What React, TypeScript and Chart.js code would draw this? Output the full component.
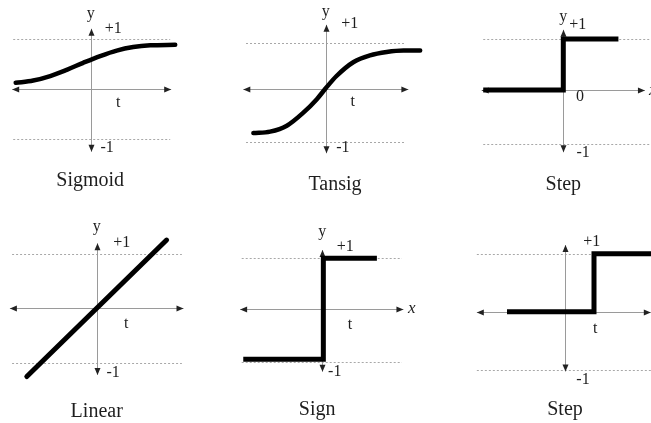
import React, { useEffect, useRef } from "react";
import { Chart, registerables } from "chart.js";
Chart.register(...registerables);

// ---- data ----
const sigmoidT = [-1.5, -1.15, -0.81, -0.48, -0.15, 0.19, 0.52, 0.85, 1.19, 1.69];
const sigmoidY = [0.13, 0.175, 0.265, 0.39, 0.53, 0.665, 0.775, 0.845, 0.88, 0.89];
const tansigT = [-1.47, -1.13, -0.79, -0.46, -0.18, 0, 0.22, 0.56, 0.9, 1.24, 1.58, 1.92];
const tansigY = [-0.89, -0.86, -0.74, -0.48, -0.2, 0.02, 0.27, 0.55, 0.69, 0.76, 0.79, 0.79];
const step1T = [-1.54, 0, 0, 1.06];
const step1Y = [0, 0, 1, 1];
const linearT = [-1.28, 0, 1.28];
const linearY = [-1.25, 0, 1.25];
const signT = [-1.52, 0.02, 0.02, 1.05];
const signY = [-0.96, -0.96, 0.98, 0.98];
const step2T = [-1.0, 0.5, 0.5, 1.5];
const step2Y = [0, 0, 1, 1];
const titles = ["Sigmoid", "Tansig", "Step", "Linear", "Sign", "Step"];
const plusOne = "+1";
const minusOne = "-1";

type Label = { text: string; x: number; y: number; size?: number; italic?: boolean; align?: CanvasTextAlign };
type Panel = {
  box: [number, number, number, number];
  ox: number; oy: number; ux: number; uy: number;
  hAxis: [number, number]; vAxis: [number, number];
  dots: [number, number]; dotVals: [number, number];
  t: number[]; y: number[]; lw: number; smooth: boolean; cap: CanvasLineCap;
  labels: Label[];
};

const SERIF = '"Liberation Serif", "Times New Roman", serif';

const panels: Panel[] = [
  {
    box: [0, 0, 217, 211], ox: 90.7, oy: 89.3, ux: 50, uy: 50,
    hAxis: [-1.57, 1.61], vAxis: [-1.25, 1.21], dots: [-1.55, 1.59], dotVals: [1, -1],
    t: sigmoidT, y: sigmoidY, lw: 4.5, smooth: true, cap: "round",
    labels: [
      { text: "y", x: 0, y: 1.51 }, { text: plusOne, x: 0.45, y: 1.21 }, { text: "t", x: 0.55, y: -0.27 },
      { text: minusOne, x: 0.33, y: -1.17 }, { text: titles[0], x: -0.01, y: -1.83, size: 20 },
    ],
  },
  {
    box: [217, 0, 217, 211], ox: 325.7, oy: 89.3, ux: 49.2, uy: 49.2,
    hAxis: [-1.675, 1.68], vAxis: [-1.3, 1.31], dots: [-1.62, 1.61], dotVals: [0.935, -1.065],
    t: tansigT, y: tansigY, lw: 4.5, smooth: true, cap: "round",
    labels: [
      { text: "y", x: 0, y: 1.57 }, { text: plusOne, x: 0.49, y: 1.33 }, { text: "t", x: 0.55, y: -0.26 },
      { text: minusOne, x: 0.35, y: -1.19 }, { text: titles[1], x: 0.19, y: -1.94, size: 20 },
    ],
  },
  {
    box: [434, 0, 217, 211], ox: 563.3, oy: 90, ux: 52, uy: 51,
    hAxis: [-1.57, 1.57], vAxis: [-1.22, 1.18], dots: [-1.54, 1.69], dotVals: [1, -1.065],
    t: step1T, y: step1Y, lw: 5, smooth: false, cap: "butt",
    labels: [
      { text: "y", x: 0, y: 1.43 }, { text: plusOne, x: 0.28, y: 1.27 }, { text: "0", x: 0.32, y: -0.14 },
      { text: minusOne, x: 0.38, y: -1.24 }, { text: titles[2], x: 0, y: -1.86, size: 20 },
      { text: "x", x: 1.65, y: -0.02, italic: true, align: "left", size: 17 },
    ],
  },
  {
    box: [0, 211, 217, 212], ox: 96.7, oy: 308.3, ux: 54.6, uy: 54.6,
    hAxis: [-1.59, 1.59], vAxis: [-1.22, 1.19], dots: [-1.55, 1.56], dotVals: [1, -1],
    t: linearT, y: linearY, lw: 5, smooth: false, cap: "round",
    labels: [
      { text: "y", x: 0, y: 1.49 }, { text: plusOne, x: 0.46, y: 1.2 }, { text: "t", x: 0.54, y: -0.29 },
      { text: minusOne, x: 0.3, y: -1.18 }, { text: titles[3], x: 0, y: -1.89, size: 20 },
    ],
  },
  {
    box: [217, 211, 217, 212], ox: 322.3, oy: 309.3, ux: 52, uy: 52,
    hAxis: [-1.58, 1.56], vAxis: [-1.2, 1.14], dots: [-1.55, 1.53], dotVals: [0.98, -1.02],
    t: signT, y: signY, lw: 5, smooth: false, cap: "butt",
    labels: [
      { text: "y", x: 0, y: 1.49 }, { text: plusOne, x: 0.44, y: 1.2 }, { text: "t", x: 0.53, y: -0.3 },
      { text: minusOne, x: 0.24, y: -1.2 }, { text: titles[4], x: -0.1, y: -1.94, size: 20 },
      { text: "x", x: 1.72, y: 0.02, italic: true, size: 17 },
    ],
  },
  {
    box: [434, 211, 217, 212], ox: 565, oy: 311.7, ux: 58, uy: 58,
    hAxis: [-1.52, 1.48], vAxis: [-1.03, 1.15], dots: [-1.52, 1.5], dotVals: [1, -1],
    t: step2T, y: step2Y, lw: 5, smooth: false, cap: "butt",
    labels: [
      { text: plusOne, x: 0.46, y: 1.21 }, { text: "t", x: 0.52, y: -0.29 },
      { text: minusOne, x: 0.31, y: -1.17 }, { text: titles[5], x: 0, y: -1.69, size: 20 },
    ],
  },
];

function arrow(ctx: CanvasRenderingContext2D, x: number, y: number, dx: number, dy: number) {
  const L = 7, W = 3;
  const px = -dy, py = dx;
  ctx.beginPath();
  ctx.moveTo(x, y);
  ctx.lineTo(x - dx * L + px * W, y - dy * L + py * W);
  ctx.lineTo(x - dx * L - px * W, y - dy * L - py * W);
  ctx.closePath();
  ctx.fill();
}

function makePlugin(p: Panel) {
  return {
    id: "axesDecor",
    beforeDatasetsDraw(chart: any) {
      const ctx: CanvasRenderingContext2D = chart.ctx;
      const xs = chart.scales.x, ys = chart.scales.y;
      const X = (v: number) => xs.getPixelForValue(v);
      const Y = (v: number) => ys.getPixelForValue(v);
      ctx.save();
      ctx.strokeStyle = "#a8a8a8";
      ctx.lineWidth = 1;
      ctx.setLineDash([2, 2]);
      for (const v of p.dotVals) {
        ctx.beginPath();
        ctx.moveTo(X(p.dots[0]), Math.round(Y(v)) + 0.5);
        ctx.lineTo(X(p.dots[1]), Math.round(Y(v)) + 0.5);
        ctx.stroke();
      }
      ctx.setLineDash([]);
      ctx.strokeStyle = "#9a9a9a";
      const ay = Math.round(Y(0)) + 0.5;
      const ax = Math.round(X(0)) + 0.5;
      ctx.beginPath();
      ctx.moveTo(X(p.hAxis[0]), ay);
      ctx.lineTo(X(p.hAxis[1]), ay);
      ctx.moveTo(ax, Y(p.vAxis[0]));
      ctx.lineTo(ax, Y(p.vAxis[1]));
      ctx.stroke();
      ctx.fillStyle = "#222";
      arrow(ctx, X(p.hAxis[0]), ay, -1, 0);
      arrow(ctx, X(p.hAxis[1]), ay, 1, 0);
      arrow(ctx, ax, Y(p.vAxis[1]), 0, -1);
      arrow(ctx, ax, Y(p.vAxis[0]), 0, 1);
      ctx.restore();
    },
    afterDatasetsDraw(chart: any) {
      const ctx: CanvasRenderingContext2D = chart.ctx;
      const xs = chart.scales.x, ys = chart.scales.y;
      ctx.save();
      ctx.fillStyle = "#1e1e1e";
      ctx.textBaseline = "middle";
      for (const l of p.labels) {
        ctx.font = `${l.italic ? "italic " : ""}${l.size ?? 16}px ${SERIF}`;
        ctx.textAlign = l.align ?? "center";
        ctx.fillText(l.text, xs.getPixelForValue(l.x), ys.getPixelForValue(l.y));
      }
      ctx.restore();
    },
  };
}

function PanelChart({ p }: { p: Panel }) {
  const ref = useRef<HTMLCanvasElement>(null);
  useEffect(() => {
    if (!ref.current) return;
    const [L, T, W, H] = p.box;
    const chart = new Chart(ref.current, {
      type: "line",
      data: {
        datasets: [
          {
            data: p.t.map((x, i) => ({ x, y: p.y[i] })),
            borderColor: "#000",
            borderWidth: p.lw,
            pointRadius: 0,
            fill: false,
            tension: p.smooth ? 0.4 : 0,
            cubicInterpolationMode: p.smooth ? "monotone" : "default",
            borderCapStyle: p.cap,
            borderJoinStyle: "miter",
          } as any,
        ],
      },
      options: {
        responsive: true,
        maintainAspectRatio: false,
        animation: false,
        devicePixelRatio: 1,
        events: [],
        layout: { padding: 0 },
        plugins: { legend: { display: false }, tooltip: { enabled: false }, title: { display: false } },
        scales: {
          x: { type: "linear", display: false, min: (L - p.ox) / p.ux, max: (L + W - p.ox) / p.ux },
          y: { type: "linear", display: false, min: (p.oy - (T + H)) / p.uy, max: (p.oy - T) / p.uy },
        },
      },
      plugins: [makePlugin(p) as any],
    });
    return () => chart.destroy();
  }, [p]);
  const [L, T, W, H] = p.box;
  return (
    <div style={{ position: "absolute", left: L, top: T, width: W, height: H }}>
      <canvas ref={ref} />
    </div>
  );
}

export default function App() {
  return (
    <div style={{ position: "fixed", left: 0, top: 0, width: 651, height: 423, background: "#fff", overflow: "hidden" }}>
      {panels.map((p, i) => (
        <PanelChart key={i} p={p} />
      ))}
    </div>
  );
}
